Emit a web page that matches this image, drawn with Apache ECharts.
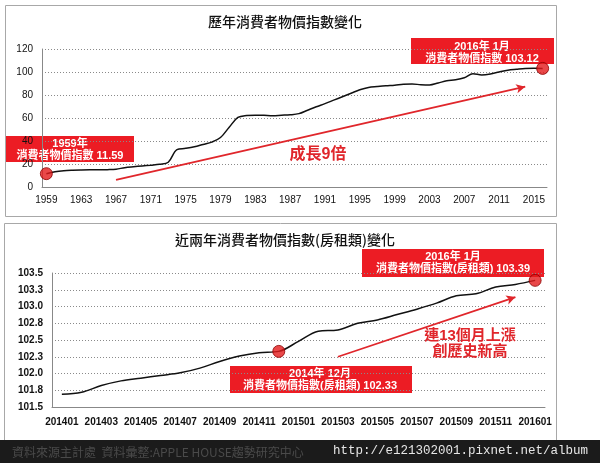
<!DOCTYPE html>
<html>
<head>
<meta charset="utf-8">
<script src="https://cdn.jsdelivr.net/npm/echarts@6/dist/echarts.min.js"></script>
<style>
html,body{margin:0;padding:0;background:#fff;}
#c{width:600px;height:463px;}
</style>
</head>
<body>
<div id="c"></div>
<script>
// ---- data ----
const years = ['1959','1960','1961','1962','1963','1964','1965','1966','1967','1968','1969','1970','1971','1972','1973','1974','1975','1976','1977','1978','1979','1980','1981','1982','1983','1984','1985','1986','1987','1988','1989','1990','1991','1992','1993','1994','1995','1996','1997','1998','1999','2000','2001','2002','2003','2004','2005','2006','2007','2008','2009','2010','2011','2012','2013','2014','2015','2016'];
const cpiYearly = [11.59,13.3,14.2,14.6,14.8,14.9,14.9,15.1,15.5,16.8,17.6,18.3,19.0,19.8,21.5,32.5,33.6,35.0,37.0,39.0,43.0,52.0,60.5,62.2,62.5,62.3,62.0,62.4,62.8,63.8,66.8,69.8,72.5,75.5,78.5,81.5,84.5,86.5,87.3,88.0,88.5,89.3,89.5,89.0,88.8,90.5,92.3,93.2,95.0,98.5,97.5,98.3,100.0,101.5,102.3,103.0,103.2,103.12];
const months = ['201401','201402','201403','201404','201405','201406','201407','201408','201409','201410','201411','201412','201501','201502','201503','201504','201505','201506','201507','201508','201509','201510','201511','201512','201601'];
const rentCpi = [101.69,101.72,101.82,101.89,101.93,101.97,102.01,102.08,102.18,102.26,102.31,102.33,102.48,102.63,102.65,102.75,102.80,102.88,102.96,103.05,103.16,103.19,103.29,103.33,103.39];
const topMarkIdx = [0, 57];
const bottomMarkIdx = [11, 24];
const topTitle = '歷年消費者物價指數變化';
const bottomTitle = '近兩年消費者物價指數(房租類)變化';
const topNotes = ['1959年\n消費者物價指數 11.59', '2016年 1月\n消費者物價指數 103.12', '成長9倍'];
const bottomNotes = ['2016年 1月\n消費者物價指數(房租類) 103.39', '2014年 12月\n消費者物價指數(房租類) 102.33', '連13個月上漲\n創歷史新高'];
const footerLeft = '資料來源主計處  資料彙整:APPLE HOUSE趨勢研究中心';
const footerRight = 'http://e121302001.pixnet.net/album';

// ---- chart ----
const RED = '#ec1c24';
const ARROW = '#e0262b';
const FONT = '"Liberation Sans","Noto Sans CJK TC",sans-serif';
const CJK = '"Noto Sans CJK TC","Liberation Sans",sans-serif';
const chart = echarts.init(document.getElementById('c'), null, {renderer:'canvas'});

function box(x, y, w, h, text, cx, cy, lh) {
  return {
    type:'group', z:100, children:[
      {type:'rect', shape:{x:x, y:y, width:w, height:h}, style:{fill:RED}},
      {type:'text', style:{text:text, x:cx, y:cy, align:'center', verticalAlign:'middle',
        fill:'#fff', font:'bold 11px ' + FONT, lineHeight:lh}}
    ]
  };
}

const splitDots = {show:true, lineStyle:{color:'#8a8a8a', type:[1,2], width:1}};

chart.setOption({
  animation:false,
  title:[
    {text:topTitle, left:280, top:10, textAlign:'center',
      textStyle:{fontSize:14, fontWeight:500, color:'#111', fontFamily:CJK}},
    {text:bottomTitle, left:280, top:228, textAlign:'center',
      textStyle:{fontSize:14, fontWeight:500, color:'#111', fontFamily:CJK}}
  ],
  grid:[
    {left:42, right:53, top:49, bottom:276},
    {left:52, right:55, top:273, bottom:56}
  ],
  xAxis:[
    {type:'category', gridIndex:0, data:years, boundaryGap:true,
      axisLine:{lineStyle:{color:'#888'}},
      axisTick:{interval:0, inside:true, length:3, lineStyle:{color:'#666'}},
      axisLabel:{interval:3, margin:8, fontSize:10, color:'#111', fontFamily:FONT}},
    {type:'category', gridIndex:1, data:months, boundaryGap:true,
      axisLine:{lineStyle:{color:'#888'}},
      axisTick:{interval:0, inside:true, length:3, lineStyle:{color:'#666'}},
      axisLabel:{interval:1, margin:10, fontSize:10, fontWeight:'bold', color:'#111', fontFamily:FONT}}
  ],
  yAxis:[
    {type:'value', gridIndex:0, min:0, max:120, interval:20,
      axisLine:{show:true, lineStyle:{color:'#888'}}, axisTick:{show:false},
      splitLine:splitDots,
      axisLabel:{margin:9, fontSize:10, color:'#111', fontFamily:FONT}},
    {type:'value', gridIndex:1, min:101.5, max:103.5, interval:0.25,
      axisLine:{show:true, lineStyle:{color:'#888'}}, axisTick:{show:false},
      splitLine:splitDots,
      axisLabel:{margin:9, fontSize:10, fontWeight:'bold', color:'#111', fontFamily:FONT,
        formatter:function(v){return v.toFixed(1);}}}
  ],
  series:[
    {type:'line', xAxisIndex:0, yAxisIndex:0, data:cpiYearly, smooth:0.35, symbol:'none',
      lineStyle:{color:'#111', width:1.5},
      markLine:{silent:true, symbol:['none','arrow'], symbolSize:[7,9], label:{show:false},
        lineStyle:{color:ARROW, width:1.8, type:'solid'},
        data:[[{coord:[8.2, 6.3]}, {coord:[55.2, 87.2]}]]}},
    {type:'line', xAxisIndex:1, yAxisIndex:1, data:rentCpi, smooth:0.35, symbol:'none',
      lineStyle:{color:'#111', width:1.5},
      markLine:{silent:true, symbol:['none','arrow'], symbolSize:[7,9], label:{show:false},
        lineStyle:{color:ARROW, width:1.8, type:'solid'},
        data:[[{coord:[14.1, 102.25]}, {coord:[22.66, 103.14]}]]}},
    {type:'scatter', xAxisIndex:0, yAxisIndex:0, symbolSize:12, z:5,
      itemStyle:{color:'#e31a1c', borderColor:'#8b0000', borderWidth:1},
      data:topMarkIdx.map(i => [years[i], cpiYearly[i]])},
    {type:'scatter', xAxisIndex:1, yAxisIndex:1, symbolSize:12, z:5,
      itemStyle:{color:'#e31a1c', borderColor:'#8b0000', borderWidth:1},
      data:bottomMarkIdx.map(i => [months[i], rentCpi[i]])}
  ],
  graphic:[
    {type:'rect', z:-10, shape:{x:5.5, y:5.5, width:551, height:211}, style:{fill:'none', stroke:'#a8a8a8', lineWidth:1}},
    {type:'rect', z:-10, shape:{x:4.5, y:223.5, width:552, height:230}, style:{fill:'none', stroke:'#a8a8a8', lineWidth:1}},
    {type:'rect', z:90, shape:{x:0, y:440, width:600, height:23}, style:{fill:'#1b1b1b'}},
    {type:'text', z:91, style:{text:footerLeft, x:12, y:452, verticalAlign:'middle', fill:'#4a4a4a', font:'12px ' + CJK}},
    {type:'text', z:91, style:{text:footerRight, x:588, y:451, align:'right', verticalAlign:'middle', fill:'#e6e6e6', font:'12.5px "Liberation Mono",monospace'}},
    box(6, 136, 128, 26, topNotes[0], 70, 150, 11.5),
    box(411, 38, 143, 26, topNotes[1], 482, 53, 12),
    box(362, 249, 182, 28, bottomNotes[0], 453, 262.5, 12),
    box(230, 366, 182, 27, bottomNotes[1], 320, 380, 12),
    {type:'text', z:100, style:{text:topNotes[2], x:318, y:155, align:'center', verticalAlign:'middle', fill:ARROW, font:'bold 16px ' + FONT}},
    {type:'text', z:100, style:{text:bottomNotes[2], x:470, y:343.5, align:'center', verticalAlign:'middle', fill:ARROW, font:'bold 15px ' + FONT, lineHeight:16}}
  ]
});
</script>
</body>
</html>
